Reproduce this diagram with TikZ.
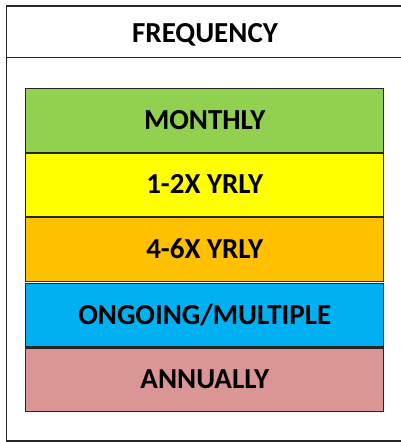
\documentclass[tikz,border=0pt]{standalone}
\usepackage{fontspec}
\setmainfont{Carlito}
\usetikzlibrary{positioning}
\definecolor{cMonth}{HTML}{92D050}
\definecolor{cTwice}{HTML}{FFFF00}
\definecolor{cSix}{HTML}{FFC000}
\definecolor{cOngo}{HTML}{00B0F0}
\definecolor{cAnnual}{HTML}{DA9694}
\begin{document}
\begin{tikzpicture}[x=1pt, y=-1pt, line join=miter,
  band/.style={draw=black!85, line width=1.1pt, minimum width=358pt, minimum height=63.5pt,
    inner sep=0pt, font=\fontsize{29}{32}\selectfont\bfseries}]
\useasboundingbox (0,0) rectangle (400,442);
\coordinate (TL) at (6.5,6);
\coordinate (BR) at (404,441);
\coordinate (SL) at (6.5,57.5);
\coordinate (SR) at (404,57.5);
\draw[line width=1.2pt, black!85] (TL) rectangle (BR);
\draw[line width=1.2pt, black!85] (SL) -- (SR);
\node[font=\fontsize{29}{32}\selectfont\bfseries] (head) at (205,34.5) {FREQUENCY};
\node[band, fill=cMonth] (month) at (204.75,120.3) {\raisebox{1.5pt}{MONTHLY}};
\node[band, fill=cTwice, below=0pt of month] (twice) {\raisebox{1.5pt}{1-2X YRLY}};
\node[band, fill=cSix, below=0pt of twice] (six) {\raisebox{1.5pt}{4-6X YRLY}};
\node[band, fill=cOngo, below=1pt of six] (ongo) {\raisebox{1.5pt}{ONGOING/MULTIPLE}};
\node[band, fill=cAnnual, below=0pt of ongo] (annual) {\raisebox{1.5pt}{ANNUALLY}};
\end{tikzpicture}
\end{document}
